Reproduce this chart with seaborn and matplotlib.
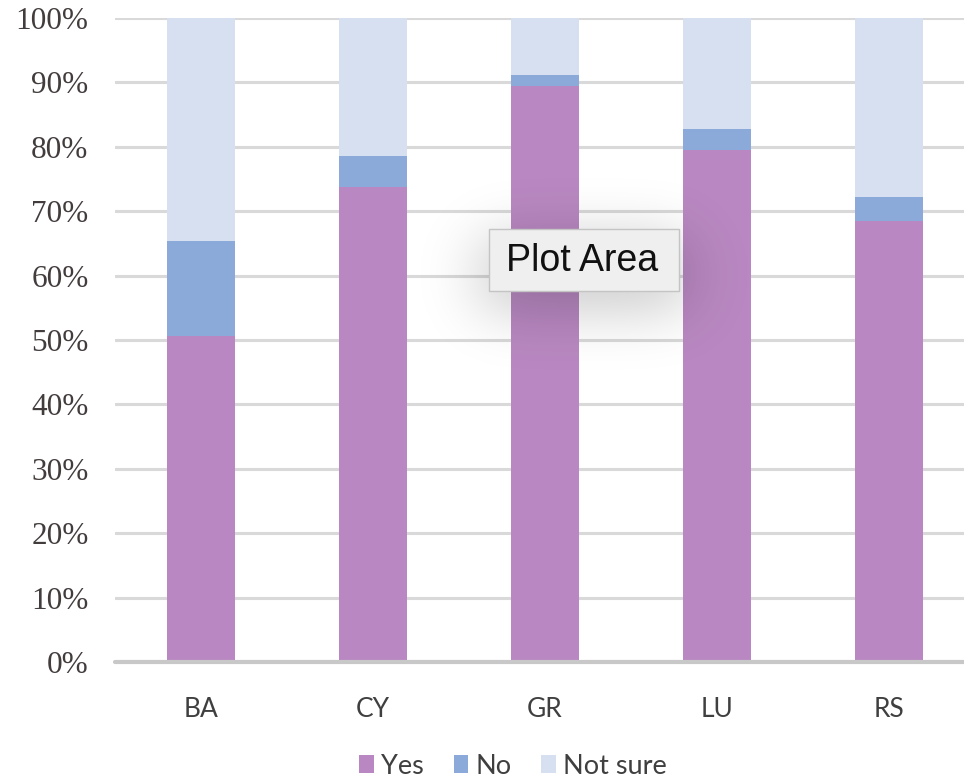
import matplotlib
matplotlib.use("Agg")
import math
import matplotlib.pyplot as plt
import seaborn as sns
import pandas as pd
import numpy as np
from matplotlib.patches import Rectangle, Patch
from matplotlib import font_manager

categories = ["BA", "CY", "GR", "LU", "RS"]
yes_vals = [50.6, 73.8, 89.5, 79.5, 68.5]
no_vals = [14.8, 4.7, 1.6, 3.2, 3.7]
notsure_vals = [34.6, 21.5, 8.9, 17.3, 27.8]
series_names = ["Yes", "No", "Not sure"]
colors = ["#B988C2", "#8BAAD9", "#D7E0F1"]
yticks = [0, 10, 20, 30, 40, 50, 60, 70, 80, 90, 100]
ytick_labels = [f"{v}%" for v in yticks]
tooltip_text = "Plot Area"

sns.set_theme(style="white")
avail = {f.name for f in font_manager.fontManager.ttflist}
sans = "Lato" if "Lato" in avail else "DejaVu Sans"
serif = "Liberation Serif" if "Liberation Serif" in avail else "DejaVu Serif"
plt.rcParams["font.family"] = [sans, "DejaVu Sans"]

W, H = 964, 780
fig = plt.figure(figsize=(W / 100, H / 100), dpi=100)
ax = fig.add_axes([115 / W, 1 - 662 / H, 1 - 115 / W, (662 - 18) / H])

df = pd.DataFrame({"cat": categories, "Yes": yes_vals, "No": no_vals, "Not sure": notsure_vals})
df["c1"] = df["Yes"]
df["c2"] = df["Yes"] + df["No"]
df["c3"] = df["Yes"] + df["No"] + df["Not sure"]

for col, color in zip(["c3", "c2", "c1"], colors[::-1]):
    sns.barplot(data=df, x="cat", y=col, color=color, width=0.395, ax=ax,
                saturation=1, edgecolor="none", linewidth=0, zorder=3)

ax.set_xlim(-0.5, 4.436)
ax.set_ylim(0, 100)
ax.set_yticks(yticks)
ax.set_yticklabels(ytick_labels, fontfamily=serif, fontsize=22.5, color="#433c3c")
ax.tick_params(axis="y", length=0, pad=19)
ax.tick_params(axis="x", length=0, pad=25, labelsize=19, labelcolor="#3f3f3f")
for lbl in ax.get_xticklabels():
    lbl.set_fontfamily(sans)
ax.set_xlabel("")
ax.set_ylabel("")
for v in yticks[1:]:
    ax.axhline(v, color="#D9D9D9", lw=2.2, zorder=1)
ax.axhline(0, color="#C8C8C8", lw=3, zorder=4, clip_on=False)
for s in ax.spines.values():
    s.set_visible(False)

handles = [Patch(facecolor=c, edgecolor="none", label=n) for n, c in zip(series_names, colors)]
fig.legend(handles=handles, loc="center", bbox_to_anchor=(513 / W, 1 - 766 / H),
           ncol=3, frameon=False, fontsize=19.5, handlelength=0.55, handleheight=0.6,
           handletextpad=0.25, columnspacing=1.1, labelcolor="#3f3f3f")

# "Plot Area" tooltip overlay with soft shadow
ov = fig.add_axes([0, 0, 1, 1], zorder=10)
ov.set_xlim(0, W)
ov.set_ylim(H, 0)
ov.axis("off")
erf = np.vectorize(math.erf)
xs = np.arange(W) + 0.5
ys = np.arange(H) + 0.5
sx, sy = 30.0, 28.0
x0, x1, y0, y1 = 480, 688, 236, 312
gx = 0.5 * (erf((xs - x0) / (sx * 1.414)) - erf((xs - x1) / (sx * 1.414)))
gy = 0.5 * (erf((ys - y0) / (sy * 1.414)) - erf((ys - y1) / (sy * 1.414)))
alpha = 0.2 * np.outer(gy, gx)
img = np.zeros((H, W, 4))
img[..., 3] = alpha
ov.imshow(img, extent=(0, W, H, 0), interpolation="bilinear", zorder=1)
ov.add_patch(Rectangle((489, 229), 190, 62, facecolor="#EFEFEF", edgecolor="#C4C4C4",
                       lw=1.0, zorder=2))
ov.text(582, 261, tooltip_text, ha="center", va="center", fontsize=27,
        fontfamily=["Liberation Sans", "DejaVu Sans"], color="#111111", zorder=3)
ov.set_xlim(0, W)
ov.set_ylim(H, 0)

fig.savefig("out.png", dpi=100)
